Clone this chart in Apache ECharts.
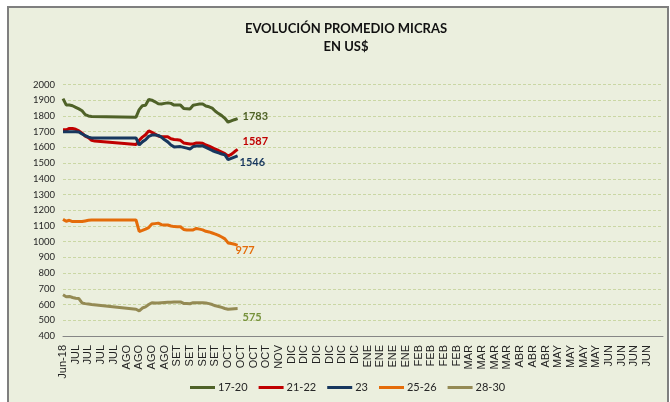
<!DOCTYPE html>
<html>
<head>
<meta charset="utf-8">
<script src="https://cdn.jsdelivr.net/npm/echarts@6/dist/echarts.min.js"></script>
<style>
html,body{margin:0;padding:0;background:#fff;}
#chart{width:670px;height:402px;}
</style>
</head>
<body>
<div id="chart"></div>
<script>
// Tick labels of the category axis (one per week)
var tickLabels = ["Jun-18","JUL","JUL","JUL","JUL","AGO","AGO","AGO","AGO","SET","SET","SET","SET",
  "OCT","OCT","OCT","OCT","NOV","DIC","DIC","DIC","DIC","DIC","DIC","ENE","ENE","ENE","ENE",
  "FEB","FEB","FEB","FEB","MAR","MAR","MAR","MAR","ABR","ABR","ABR","MAY","MAY","MAY","MAY",
  "JUN","JUN","JUN","JUN"];
var seriesNames = ["17-20","21-22","23","25-26","28-30"];
var _ = null;
var s1720 = [1910,1870,1870,1865,1855,1845,1833,1808,1800,1797,_,_,_,_,_,_,_,_,_,_,_,_,_,
  1792,1840,1865,1868,1905,1900,1890,1878,1876,1880,1883,1880,1869,1869,1869,1848,1846,1844,
  1868,1872,1876,1876,1863,1858,1850,1830,1815,1802,1785,1760,1768,1776,1783];
var s2122 = [1712,1712,1720,1720,1715,1705,1690,1672,1662,1645,1640,_,_,_,_,_,_,_,_,_,_,_,_,
  1618,1645,1665,1680,1705,1695,1685,1672,1668,1668,1668,1655,1650,1648,1645,1628,1625,1622,
  1622,1628,1628,1626,1615,1608,1598,1588,1580,1570,1560,1545,1555,1572,1587];
var s23 = [1700,1700,1700,1700,1700,1698,1685,1675,1665,1660,_,_,_,_,_,_,_,_,_,_,_,_,_,
  1660,1615,1635,1648,1670,1678,1678,1676,1665,1648,1635,1615,1603,1604,1605,1600,1595,1590,
  1605,1608,1609,1610,1600,1590,1580,1572,1565,1558,1552,1522,1530,1538,1546];
var s2526 = [1142,1130,1136,1128,1128,1128,1128,1132,1136,1138,_,_,_,_,_,_,_,_,_,_,_,_,_,
  1138,1065,1072,1080,1090,1112,1115,1118,1108,1106,1106,1100,1096,1095,1095,1078,1075,1074,
  1075,1084,1080,1075,1066,1062,1055,1048,1040,1030,1018,992,988,984,977];
var s2830 = [662,650,652,645,640,638,610,606,603,600,_,_,_,_,_,_,_,_,_,_,_,_,_,
  570,560,578,585,600,612,610,610,612,613,614,614,616,617,617,607,606,605,
  612,612,612,612,610,606,600,592,588,582,575,570,572,574,575];

var colors = ["#4F6228","#C00000","#17375E","#E46C0A","#948A54"];
var labelColors = ["#4F6228","#C00000","#17375E","#E46C0A","#77933C"];
var labelOffsets = [[0,-2],[0,-8],[-3,7],[-7,5],[0,9]];

// fine category axis: 4 slots per weekly label
var categories = [];
tickLabels.forEach(function(l){ categories.push(l,"","",""); });
categories.push("","");

var allData = [s1720,s2122,s23,s2526,s2830];
var series = allData.map(function(arr, k){
  return {
    name: seriesNames[k], type: 'line', connectNulls: true, showSymbol: false, symbol: 'none',
    lineStyle: {width: 3, color: colors[k]}, itemStyle: {color: colors[k]},
    emphasis: {disabled: true},
    endLabel: {show: true, distance: 5, offset: labelOffsets[k], color: labelColors[k],
      fontFamily: 'Lato', fontWeight: 'bold', fontSize: 11,
      formatter: function(p){ return String(p.value); }},
    data: arr
  };
});

var chart = echarts.init(document.getElementById('chart'), null, {renderer: 'canvas'});
chart.setOption({
  animation: false,
  backgroundColor: '#ffffff',
  graphic: [{type: 'rect', z: -10, silent: true,
    shape: {x: 8, y: 7, width: 660, height: 400},
    style: {fill: '#EBEFDE', stroke: '#7F7F7F', lineWidth: 2}}],
  title: {text: 'EVOLUCIÓN PROMEDIO MICRAS\nEN US$', left: 341, top: 15, textAlign: 'center',
    textStyle: {fontFamily: 'Lato', fontWeight: 'bold', fontSize: 13, color: '#111', lineHeight: 18}},
  legend: {left: 185, top: 377, itemWidth: 25, itemHeight: 3, itemGap: 11, icon: 'rect',
    textStyle: {fontFamily: 'Lato', fontSize: 11, color: '#262626', padding: [0,0,0,-2]},
    data: seriesNames},
  grid: {left: 63, right: 7, top: 84.5, bottom: 66, containLabel: false},
  xAxis: {type: 'category', data: categories, boundaryGap: false,
    axisLine: {lineStyle: {color: '#868686', width: 1}},
    axisTick: {show: false},
    axisLabel: {interval: 3, rotate: 90, margin: 9, fontFamily: 'Liberation Sans', fontSize: 11, color: '#222'},
    splitLine: {show: false}},
  yAxis: {type: 'value', min: 400, max: 2000, interval: 100,
    axisLine: {show: false}, axisTick: {show: false},
    axisLabel: {fontFamily: 'Lato', fontSize: 9.5, color: '#262626', margin: 8,
      formatter: function(v){ return String(v); }},
    splitLine: {lineStyle: {color: '#CAD7A4', type: [3, 2], width: 1}}},
  series: series
});
</script>
</body>
</html>
